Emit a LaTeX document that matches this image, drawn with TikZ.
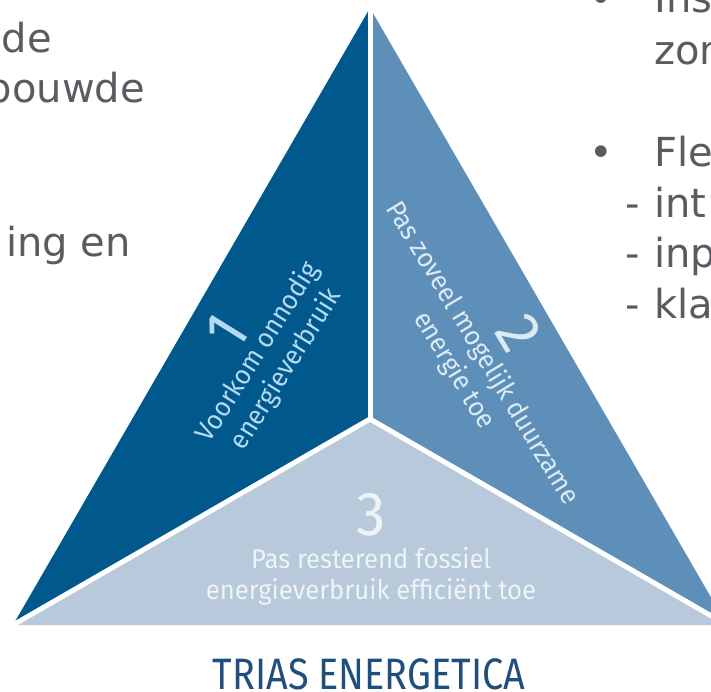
\documentclass[tikz,border=0pt]{standalone}
\usepackage{fontspec}
\setmainfont{DejaVu Sans}
\newfontfamily\triasfont[FakeStretch=0.95]{Fira Sans}
\newfontfamily\triastitlefont[FakeStretch=0.86]{Fira Sans}
\usepackage{xcolor}
\definecolor{piecedark}{HTML}{00588C}
\definecolor{piecemid}{HTML}{5E8FB8}
\definecolor{piecelight}{HTML}{B7C9DA}
\definecolor{slidegray}{HTML}{5E5960}
\definecolor{titleblue}{HTML}{204F7D}
\definecolor{textdark}{HTML}{B4DAF0}
\definecolor{textmid}{HTML}{DCEAF5}
\definecolor{textlight}{HTML}{EEF3F8}

\begin{document}
\begin{tikzpicture}[x=1pt,y=-1pt,
		slide/.style={text=slidegray,inner sep=0pt,font=\fontsize{40}{48}\selectfont},
		piece/.style={inner sep=0pt,align=center,font=\triasfont\fontsize{27}{31}\selectfont},
		slantpiece/.style={piece,font=\triasfont\fontsize{27}{33}\selectfont},
		number/.style={inner sep=0pt,font=\triasfont\fontsize{62}{66}\selectfont}]
				\useasboundingbox (0,0) rectangle (711,692);
				\clip (0,0) rectangle (711,692);
				\foreach \x/\y/\z in
				{top/370/8, left/13/625, right/727/625, mid/370/419}{
					\coordinate(\x) at (\y,\z);
				}
				
				% the three pieces
				\fill[piecedark] (top) -- (mid) -- (left) -- cycle;
				\fill[piecemid] (top) -- (right) -- (mid) -- cycle;
				\fill[piecelight] (left) -- (mid) -- (right) -- cycle;
				\foreach \x in {top,left,right}{
					\draw[white, line width=5pt] (mid)--(\x);
				}
				
				% piece 1 (left)
				\node[number, rotate=58, text=textdark] (n1) at (227,332){1};
				\node[slantpiece, rotate=58, text=textdark] (t1) at (272,361){Voorkom onnodig\\energieverbruik};
				
				% piece 2 (right)
				\node[number, rotate=-59, text=textmid] (n2) at (519,333){2};
				\node[slantpiece, rotate=-59, text=textmid] (t2) at (468,362){Pas zoveel mogelijk duurzame\\energie toe};
				
				% piece 3 (bottom)
				\node[number, anchor=base, text=textlight] (n3) at (371,535){3};
				\node[piece, text=textlight] (t3) at (371,576){Pas resterend fossiel\\energieverbruik efficiënt toe};
				
				\node[anchor=base, inner sep=0pt, text=titleblue, font=\triastitlefont\fontsize{44}{50}\selectfont] (title) at (369,689){TRIAS ENERGETICA};
				
				% slide text (left)
				\foreach \x/\t/\y/\z in
				{de/de/52/53, bouwde/bouwde/145/103, ingen/ing en/131/257}{
					\node[slide, anchor=base east] (\x) at (\y,\z){\t};
				}
				
				% slide text (right)
				\foreach \x/\t/\z in
				{ins/Ins/13, zon/zon/65, fle/Fle/167, int/int/218, inp/inp/268, kla/kla/318}{
					\node[slide, anchor=base west] (\x) at (654,\z){\t};
				}
				\foreach \x/\z in {b1/13, b2/167}{
					\node[slide, anchor=base] (\x) at (601,\z){•};
				}
				\foreach \x/\z in {d1/218, d2/268, d3/318}{
					\node[slide, anchor=base west] (\x) at (625,\z){-};
				}
			\end{tikzpicture}
\end{document}
